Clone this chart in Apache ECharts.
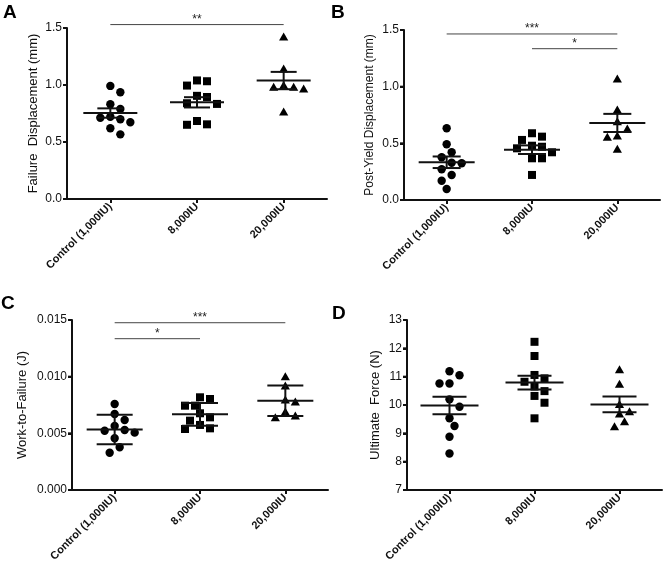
<!DOCTYPE html>
<html><head><meta charset="utf-8">
<script src="https://cdn.jsdelivr.net/npm/echarts@6/dist/echarts.min.js"></script>
<style>html,body{margin:0;padding:0;background:#fff}#c{width:664px;height:578px}</style>
</head><body><div id="c"></div>
<script>
const categories = ['Control (1,000IU)', '8,000IU', '20,000IU'];

// Panel A: Failure Displacement (mm)
const failCtrl = [0.992, 0.937, 0.831, 0.790, 0.722, 0.699, 0.713, 0.673, 0.620, 0.567];
const fail8k   = [1.040, 0.995, 1.033, 0.905, 0.895, 0.840, 0.834, 0.684, 0.651, 0.655];
const fail20k  = [1.420, 1.140, 0.995, 0.980, 0.966, 0.980, 0.763];
const failMean = [0.754, 0.848, 1.039];
const failErr  = [0.041, 0.045, 0.076];

// Panel B: Post-Yield Displacement (mm)
const pyCtrl = [0.633, 0.492, 0.421, 0.377, 0.324, 0.329, 0.271, 0.221, 0.170, 0.097];
const py8k   = [0.589, 0.559, 0.530, 0.479, 0.456, 0.470, 0.421, 0.368, 0.368, 0.221];
const py20k  = [1.068, 0.794, 0.691, 0.627, 0.565, 0.553, 0.447];
const pyMean = [0.333, 0.444, 0.680];
const pyErr  = [0.051, 0.038, 0.080];

// Panel C: Work-to-Failure (J)
const wfCtrl = [0.00759, 0.00671, 0.00618, 0.00565, 0.00529, 0.00506, 0.00523, 0.00456, 0.00377, 0.00329];
const wf8k   = [0.00803, 0.00818, 0.00744, 0.00744, 0.00677, 0.00641, 0.00612, 0.00574, 0.00538, 0.00544];
const wf20k  = [0.00918, 0.01000, 0.00794, 0.00776, 0.00688, 0.00638, 0.00653];
const wfMean = [0.00533, 0.00668, 0.00788];
const wfErr  = [0.00130, 0.00100, 0.00135];

// Panel D: Ultimate Force (N)
const ufCtrl = [11.19, 11.05, 10.76, 10.76, 10.20, 9.94, 9.53, 9.26, 8.88, 8.29];
const uf8k   = [12.23, 11.73, 11.06, 10.94, 10.82, 10.65, 10.49, 10.32, 10.08, 9.53];
const uf20k  = [11.24, 10.73, 10.02, 9.76, 9.68, 9.41, 9.23];
const ufMean = [9.98, 10.79, 10.02];
const ufErr  = [0.31, 0.24, 0.28];

// Significance brackets: [fromCategory, toCategory, yValue, label]
const sigA = [[0, 2, 1.53, '**']];
const sigB = [[0, 2, 1.465, '***'], [1, 2, 1.335, '*']];
const sigC = [[0, 2, 0.01476, '***'], [0, 1, 0.01335, '*']];
const sigD = [];

// Y axis ticks
const yTicksA = [0, 0.5, 1.0, 1.5];
const yTicksB = [0, 0.5, 1.0, 1.5];
const yTicksC = [0, 0.005, 0.010, 0.015];
const yTicksD = [7, 8, 9, 10, 11, 12, 13];

const FONT = 'Liberation Sans, Arial, sans-serif';

const panels = [
  {letter:'A', name:'Failure  Displacement (mm)', groups:[failCtrl, fail8k, fail20k], mean:failMean, err:failErr, sig:sigA, ticks:yTicksA, dec:1,
   grid:{left:67, top:28, width:260, height:171}, nameGap:27, nameSize:13, meanHalf:27, capHalf:13, lx:3, ly:3},
  {letter:'B', name:'Post-Yield Displacement (mm)', groups:[pyCtrl, py8k, py20k], mean:pyMean, err:pyErr, sig:sigB, ticks:yTicksB, dec:1,
   grid:{left:404, top:30, width:256, height:170}, nameGap:28, nameSize:12, meanHalf:28, capHalf:14, lx:331, ly:3},
  {letter:'C', name:'Work-to-Failure (J)', groups:[wfCtrl, wf8k, wf20k], mean:wfMean, err:wfErr, sig:sigC, ticks:yTicksC, dec:3,
   grid:{left:72, top:320, width:256, height:170}, nameGap:43, nameSize:13, meanHalf:28, capHalf:18, lx:1, ly:294},
  {letter:'D', name:'Ultimate  Force (N)', groups:[ufCtrl, uf8k, uf20k], mean:ufMean, err:ufErr, sig:sigD, ticks:yTicksD, dec:0,
   grid:{left:407, top:320, width:255, height:170}, nameGap:25, nameSize:13, meanHalf:29, capHalf:17, lx:332, ly:304}
];

// marker shapes per group: circle, square, triangle
function markerShape(kind, x, y) {
  if (kind === 0) return {type:'circle', shape:{cx:x, cy:y, r:4.2}, style:{fill:'#000'}};
  if (kind === 1) return {type:'rect', shape:{x:x-4, y:y-4, width:8, height:8}, style:{fill:'#000'}};
  return {type:'polygon', shape:{points:[[x, y-4.5], [x+4.6, y+3.5], [x-4.6, y+3.5]]}, style:{fill:'#000'}};
}

// Beeswarm layout in pixel space (like GraphPad scatter dot plots)
function beeswarm(ys, d, step) {
  const order = ys.map((y, i) => i).sort((a, b) => ys[a] - ys[b]);
  const placed = [], offs = new Array(ys.length).fill(0);
  for (const i of order) {
    for (let kk = 0; kk < 40; kk++) {
      const cand = kk === 0 ? 0 : (kk % 2 ? 1 : -1) * Math.ceil(kk / 2) * step;
      if (placed.every(q => Math.hypot(q.x - cand, q.y - ys[i]) >= d)) {
        offs[i] = cand; placed.push({x:cand, y:ys[i]}); break;
      }
    }
  }
  return offs;
}

const grids = [], xAxes = [], yAxes = [], series = [], titles = [];
panels.forEach((p, k) => {
  grids.push(Object.assign({}, p.grid));
  yAxes.push({
    type:'value', gridIndex:k, min:p.ticks[0], max:p.ticks[p.ticks.length-1], interval:p.ticks[1]-p.ticks[0],
    splitLine:{show:false},
    axisLine:{show:true, lineStyle:{color:'#111', width:2}},
    axisTick:{show:true, length:4, lineStyle:{color:'#111', width:2}},
    axisLabel:{fontSize:12, color:'#111', fontFamily:FONT, margin:5, formatter:v => v.toFixed(p.dec)},
    name:p.name, nameLocation:'middle', nameGap:p.nameGap,
    nameTextStyle:{fontSize:p.nameSize, color:'#111', fontFamily:FONT}
  });
  xAxes.push({
    type:'category', gridIndex:k, data:categories, boundaryGap:true,
    axisLine:{show:true, lineStyle:{color:'#111', width:2}},
    axisTick:{show:true, alignWithLabel:true, length:4, lineStyle:{color:'#111', width:2}},
    axisLabel:{rotate:45, interval:0, fontSize:11, fontWeight:'bold', color:'#111', fontFamily:FONT, margin:6},
    splitLine:{show:false}
  });
  titles.push({text:p.letter, left:p.lx, top:p.ly, padding:0, textStyle:{fontSize:19, fontWeight:'bold', color:'#000', fontFamily:FONT}});
});

panels.forEach((p, k) => {
  // y axis spine and ticks, drawn from the grid's coordinate system and the y scale
  series.push({
    type:'custom', xAxisIndex:k, yAxisIndex:k, z:1, silent:true, clip:false,
    data: p.ticks.map(t => [0, t]),
    renderItem: (params, api) => {
      const cs = params.coordSys;
      const y = api.coord([0, api.value(1)])[1];
      const st = {stroke:'#111', lineWidth:2};
      const children = [{type:'line', shape:{x1:cs.x - 4, y1:y, x2:cs.x, y2:y}, style:st}];
      if (params.dataIndex === 0) {
        children.push({type:'line', shape:{x1:cs.x, y1:cs.y, x2:cs.x, y2:cs.y + cs.height + 1}, style:st});
      }
      return {type:'group', children:children};
    }
  });
  p.groups.forEach((vals, i) => {
    series.push({
      type:'custom', xAxisIndex:k, yAxisIndex:k, z:2, silent:true, clip:false,
      data: vals.map(v => [i, v]),
      renderItem: (params, api) => {
        const ys = vals.map(v => api.coord([i, v])[1]);
        const offs = beeswarm(ys, 9, 5);
        const c = api.coord([api.value(0), api.value(1)]);
        return markerShape(i, c[0] + offs[params.dataIndex], c[1]);
      }
    });
  });
  series.push({
    type:'custom', xAxisIndex:k, yAxisIndex:k, z:3, silent:true, clip:false,
    data: p.mean.map((m, i) => [i, m, p.err[i]]),
    renderItem: (params, api) => {
      const x = api.value(0), m = api.value(1), e = api.value(2);
      const c = api.coord([x, m]), t = api.coord([x, m + e]), b = api.coord([x, m - e]);
      const st = {stroke:'#111', lineWidth:2};
      return {type:'group', children:[
        {type:'line', shape:{x1:c[0]-p.meanHalf, y1:c[1], x2:c[0]+p.meanHalf, y2:c[1]}, style:st},
        {type:'line', shape:{x1:t[0]-p.capHalf, y1:t[1], x2:t[0]+p.capHalf, y2:t[1]}, style:st},
        {type:'line', shape:{x1:b[0]-p.capHalf, y1:b[1], x2:b[0]+p.capHalf, y2:b[1]}, style:st},
        {type:'line', shape:{x1:t[0], y1:t[1], x2:b[0], y2:b[1]}, style:st}
      ]};
    }
  });
  if (p.sig.length) {
    series.push({
      type:'custom', xAxisIndex:k, yAxisIndex:k, z:3, silent:true, clip:false,
      data: p.sig.map(s => [s[0], s[1], s[2]]),
      encode:{x:[0, 1], y:2},
      renderItem: (params, api) => {
        const a = api.coord([api.value(0), api.value(2)]), b = api.coord([api.value(1), api.value(2)]);
        return {type:'group', children:[
          {type:'line', shape:{x1:a[0], y1:a[1], x2:b[0], y2:b[1]}, style:{stroke:'#444', lineWidth:1}},
          {type:'text', x:(a[0]+b[0])/2, y:a[1]+1, style:{text:p.sig[params.dataIndex][3], font:'12px ' + FONT, fill:'#222', align:'center', verticalAlign:'bottom'}}
        ]};
      }
    });
  }
});

const chart = echarts.init(document.getElementById('c'), null, {renderer:'canvas'});
chart.setOption({animation:false, backgroundColor:'#fff', title:titles, grid:grids, xAxis:xAxes, yAxis:yAxes, series:series});
</script>
</body></html>
